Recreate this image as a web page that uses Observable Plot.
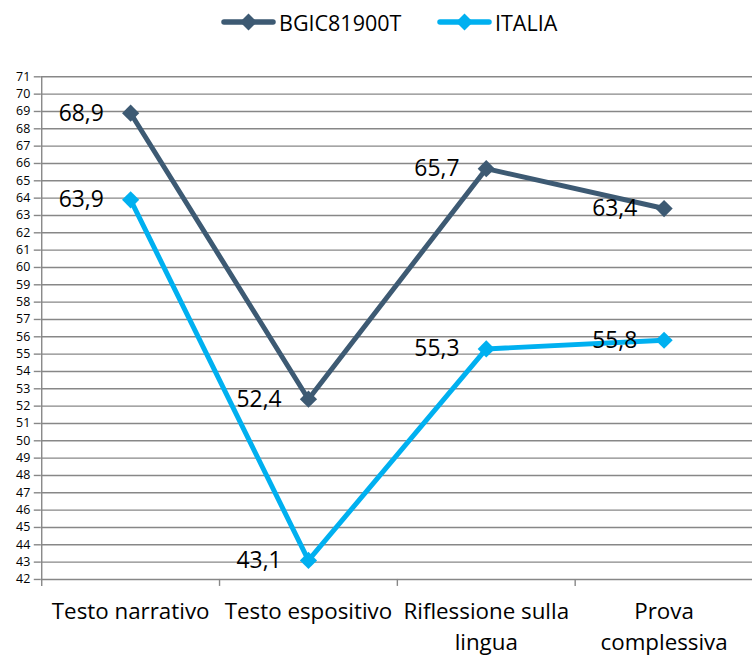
<!DOCTYPE html>
<html>
<head>
<meta charset="utf-8">
<script src="https://cdn.jsdelivr.net/npm/d3@7"></script>
<script src="https://cdn.jsdelivr.net/npm/@observablehq/plot@0.6"></script>
<style>
html, body { margin: 0; padding: 0; background: #fff; overflow: hidden; width: 752px; height: 659px; }
#legend { height: 48px; position: relative; font-family: "Open Sans", sans-serif; font-size: 21.5px; color: #000; }
.item { position: absolute; top: 8px; display: flex; align-items: center; height: 28px; }
.item svg { margin-right: 3px; }
#chart svg { display: block; }
</style>
</head>
<body>
<div id="legend"></div>
<div id="chart"></div>
<script>
const categories = ["Testo narrativo", "Testo espositivo", "Riflessione sulla lingua", "Prova complessiva"];
const tickLabels = ["Testo narrativo", "Testo espositivo", "Riflessione sulla\nlingua", "Prova\ncomplessiva"];
const seriesNames = ["BGIC81900T", "ITALIA"];
const bgicValues = [68.9, 52.4, 65.7, 63.4];
const italiaValues = [63.9, 43.1, 55.3, 55.8];
const seriesColors = ["#3D5A73", "#00B0F0"];
const yTicks = d3.range(42, 72);

const data = [];
categories.forEach((c, i) => {
  data.push({cat: c, series: seriesNames[0], value: bgicValues[i]});
  data.push({cat: c, series: seriesNames[1], value: italiaValues[i]});
});

const width = 757, marginLeft = 41, marginRight = 0;
const step = (width - marginLeft - marginRight) / categories.length;
const grid = "#878787";
const fmt = v => v.toFixed(1).replace(".", ",");

// legend
const legend = document.getElementById("legend");
const legendX = [221, 437];
seriesNames.forEach((s, i) => {
  const div = document.createElement("div");
  div.className = "item";
  div.style.left = legendX[i] + "px";
  div.innerHTML = `<svg width="55" height="20"><line x1="3" x2="52" y1="10" y2="10" stroke="${seriesColors[i]}" stroke-width="5.5" stroke-linecap="round"/><path d="M27.5,1.5 L36,10 L27.5,18.5 L19,10 Z" fill="${seriesColors[i]}"/></svg><span>${s}</span>`;
  legend.appendChild(div);
});

const chart = Plot.plot({
  width,
  height: 611,
  marginLeft,
  marginRight,
  marginTop: 28.5,
  marginBottom: 76.5,
  style: {fontFamily: "Open Sans, sans-serif", background: "transparent", overflow: "visible"},
  x: {type: "point", domain: categories, padding: 0.5},
  y: {domain: [42, 71]},
  color: {domain: seriesNames, range: seriesColors},
  marks: [
    Plot.ruleY(yTicks, {y: d => d, stroke: grid, strokeWidth: 1.4}),
    Plot.ruleX([categories[0]], {x: d => d, dx: -step / 2, y1: 71, y2: 42, stroke: grid, strokeWidth: 1.4}),
    Plot.axisY({ticks: yTicks, tickSize: 7, tickPadding: 4, fontSize: 12.5, stroke: grid, strokeWidth: 1.4, color: "#000", label: null, tickFormat: d => d}),
    Plot.axisX({tickSize: 7, text: null, stroke: grid, strokeWidth: 1.4, dx: -step / 2, label: null}),
    Plot.axisX({tickSize: 0, tickPadding: 18, fontSize: 22.5, lineHeight: 1.38, color: "#000", label: null,
      tickFormat: d => tickLabels[categories.indexOf(d)]}),
    Plot.line(data, {x: "cat", y: "value", z: "series", stroke: "series", strokeWidth: 5, strokeLinejoin: "miter"}),
    Plot.dot(data, {x: "cat", y: "value", fill: "series", symbol: "diamond2", r: 7.8}),
    Plot.text(data, {x: "cat", y: "value", text: d => fmt(d.value), textAnchor: "end", dx: -27, fontSize: 23, fill: "#000"})
  ]
});
document.getElementById("chart").appendChild(chart);
</script>
</body>
</html>
